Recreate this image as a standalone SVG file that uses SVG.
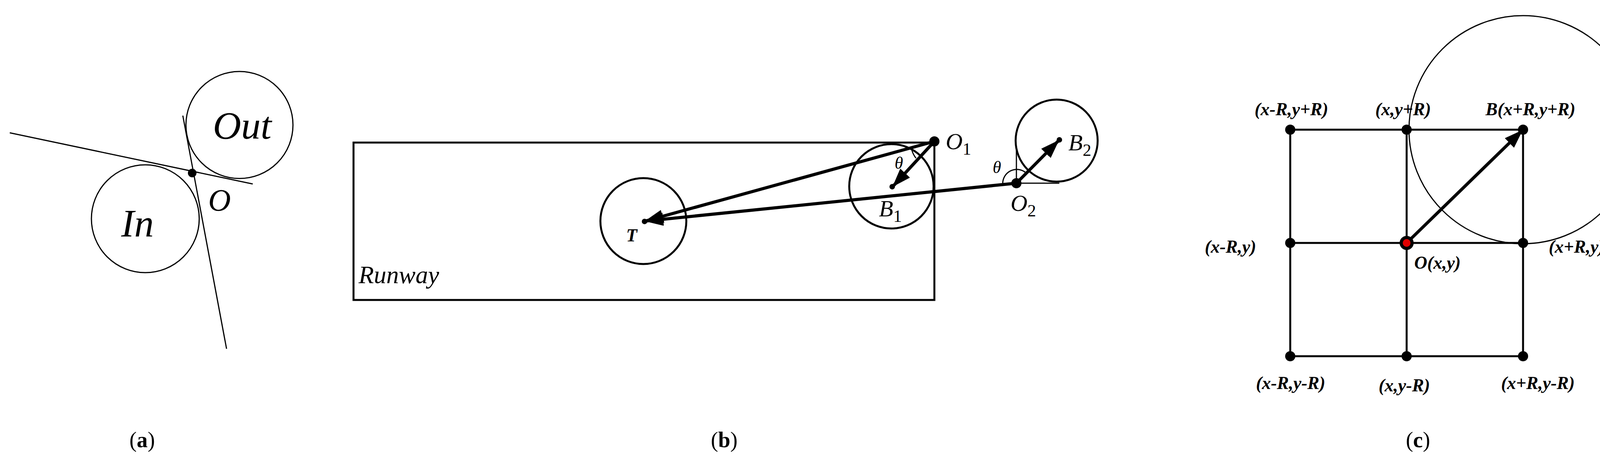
<svg xmlns="http://www.w3.org/2000/svg" width="4226" height="1211" viewBox="0 0 4226 1211">
<style>
.t{font-family:"Liberation Serif",serif;font-style:italic;fill:#000}
.tb{font-family:"Liberation Serif",serif;font-style:italic;font-weight:bold;fill:#000;font-size:46px;text-anchor:middle}
.cap{font-family:"Liberation Serif",serif;font-size:56px;fill:#000;text-anchor:middle}
.thin{fill:none;stroke:#000;stroke-width:3}
.med{fill:none;stroke:#000;stroke-width:5}
.thick{fill:none;stroke:#000;stroke-width:8}
</style>
<defs>
<marker id="ah" markerUnits="userSpaceOnUse" markerWidth="50" markerHeight="34" refX="46" refY="17" orient="auto">
<path d="M0,0 L48,17 L0,34 Z" fill="#000"/>
</marker>
</defs>
<rect width="4226" height="1211" fill="#fff"/>
<!-- (a) -->
<g id="a">
<circle cx="613" cy="320" r="137" class="thin"/>
<circle cx="372" cy="560" r="138" class="thin"/>
<line x1="25" y1="340" x2="647" y2="471" class="thin"/>
<line x1="468" y1="296" x2="580" y2="893" class="thin"/>
<circle cx="492" cy="443" r="11" fill="#000"/>
<text x="620" y="355" class="t" font-size="100" text-anchor="middle">Out</text>
<text x="352" y="605" class="t" font-size="100" text-anchor="middle">In</text>
<text x="562" y="540" class="t" font-size="80" text-anchor="middle">O</text>
<text x="364" y="1145" class="cap">(<tspan font-weight="bold">a</tspan>)</text>
</g>
<!-- (b) -->
<g id="b">
<rect x="905" y="365" width="1487" height="403" class="med"/>
<circle cx="1647" cy="566" r="110" class="med"/>
<circle cx="2282" cy="477" r="108" class="med"/>
<circle cx="2705" cy="360" r="105" class="med"/>
<line x1="2602" y1="377" x2="2602" y2="469" class="thin"/>
<line x1="2602" y1="469" x2="2712" y2="469" class="thin"/>
<path d="M2567,471 A36,36 0 0 1 2626,442" class="thin"/>
<path d="M2334,383 A58,58 0 0 0 2345,405" class="thin"/>
<circle cx="2392" cy="362" r="13" fill="#000"/>
<circle cx="2602" cy="469" r="13" fill="#000"/>
<circle cx="1650" cy="567" r="7" fill="#000"/>
<circle cx="2284" cy="478" r="7" fill="#000"/>
<circle cx="2712" cy="358" r="7" fill="#000"/>
<text x="2421" y="382" class="t" font-size="60">O<tspan font-style="normal" font-size="44" dy="14">1</tspan></text>
<text x="2587" y="540" class="t" font-size="60">O<tspan font-style="normal" font-size="44" dy="14">2</tspan></text>
<text x="2250" y="554" class="t" font-size="60">B<tspan font-style="normal" font-size="44" dy="14">1</tspan></text>
<text x="2735" y="385" class="t" font-size="60">B<tspan font-style="normal" font-size="44" dy="14">2</tspan></text>
<text x="2301" y="432" class="t" font-size="44" text-anchor="middle">θ</text>
<text x="2552" y="443" class="t" font-size="44" text-anchor="middle">θ</text>
<text x="1617" y="618" class="tb" font-size="58">T</text>
<text x="918" y="725" class="t" font-size="64">Runway</text>
<text x="1854" y="1145" class="cap">(<tspan font-weight="bold">b</tspan>)</text>
</g>
<g id="connectors">
<line x1="2392" y1="362" x2="1652" y2="566" class="thick" marker-end="url(#ah)"/>
<line x1="2602" y1="469" x2="1652" y2="566" class="thick" marker-end="url(#ah)"/>
<line x1="2392" y1="362" x2="2286" y2="477" class="thick" marker-end="url(#ah)"/>
<line x1="2602" y1="469" x2="2710" y2="360" class="thick" marker-end="url(#ah)"/>
<line x1="3601" y1="622" x2="3897" y2="334" class="thick" marker-end="url(#ah)"/>
</g>
<!-- (c) -->
<g id="c">
<circle cx="3899" cy="332" r="292" class="thin"/>
<g class="med">
<line x1="3303" y1="332" x2="3899" y2="332"/>
<line x1="3303" y1="622" x2="3899" y2="622"/>
<line x1="3303" y1="912" x2="3899" y2="912"/>
<line x1="3303" y1="332" x2="3303" y2="912"/>
<line x1="3601" y1="332" x2="3601" y2="912"/>
<line x1="3899" y1="332" x2="3899" y2="912"/>
</g>
<g fill="#000">
<circle cx="3303" cy="332" r="13"/><circle cx="3601" cy="332" r="13"/><circle cx="3899" cy="332" r="13"/>
<circle cx="3303" cy="622" r="13"/><circle cx="3899" cy="622" r="13"/>
<circle cx="3303" cy="912" r="13"/><circle cx="3601" cy="912" r="13"/><circle cx="3899" cy="912" r="13"/>
<circle cx="3601" cy="622" r="18"/>
</g>
<circle cx="3601" cy="622" r="10" fill="#e00000"/>
<text x="3306" y="295" class="tb">(x-R,y+R)</text>
<text x="3592" y="295" class="tb">(x,y+R)</text>
<text x="3918" y="295" class="tb">B(x+R,y+R)</text>
<text x="3150" y="647" class="tb">(x-R,y)</text>
<text x="4036" y="647" class="tb">(x+R,y)</text>
<text x="3680" y="688" class="tb">O(x,y)</text>
<text x="3304" y="996" class="tb">(x-R,y-R)</text>
<text x="3595" y="1002" class="tb">(x,y-R)</text>
<text x="3937" y="996" class="tb">(x+R,y-R)</text>
<text x="3630" y="1145" class="cap">(<tspan font-weight="bold">c</tspan>)</text>
</g>
</svg>
